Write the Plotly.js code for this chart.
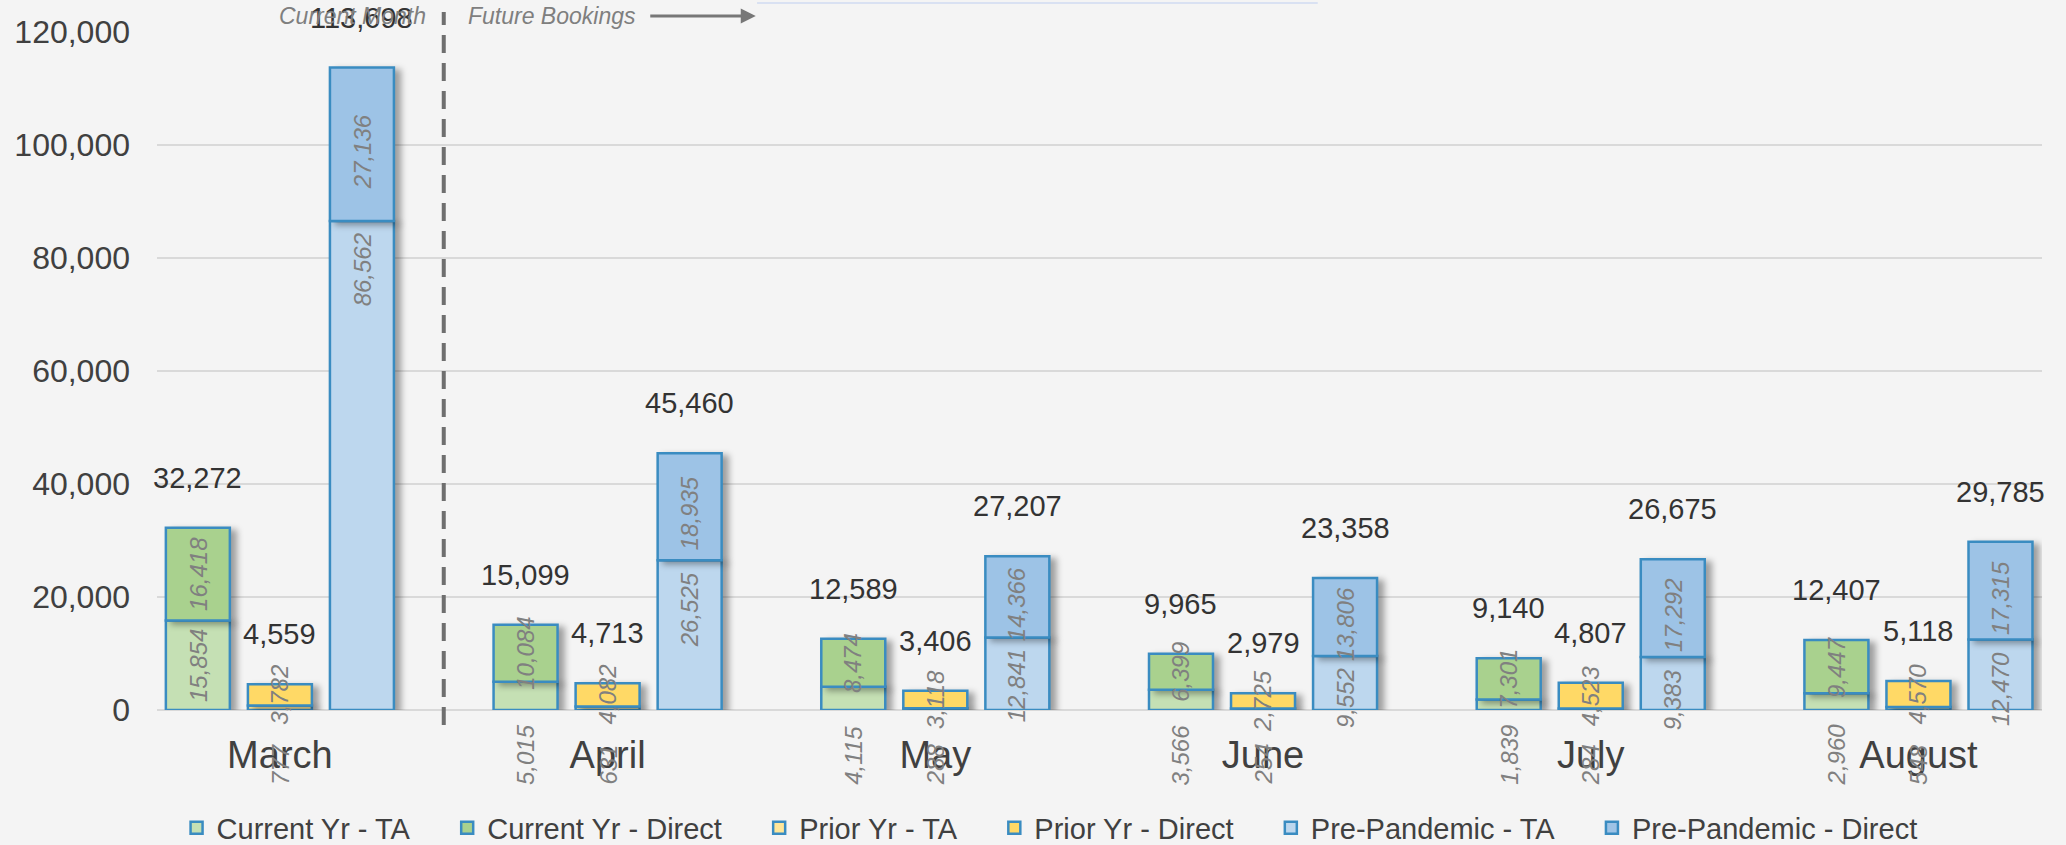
<!DOCTYPE html>
<html>
<head>
<meta charset="utf-8">
<script src="https://cdn.plot.ly/plotly-3.0.1.min.js"></script>
<style>
  html, body { margin: 0; padding: 0; background: #F4F4F4; }
  #chart { width: 2066px; height: 845px; }
  .js-plotly-plot .barlayer .trace { filter: drop-shadow(6px 3px 3px rgba(0,0,0,0.35)); }
</style>
</head>
<body>
<div id="chart"></div>
<script>
// ---- data ----
const categories = ['March', 'April', 'May', 'June', 'July', 'August'];
const currentTA     = [15854, 5015, 4115, 3566, 1839, 2960];
const currentDirect = [16418, 10084, 8474, 6399, 7301, 9447];
const priorTA       = [777, 631, 288, 254, 284, 548];
const priorDirect   = [3782, 4082, 3118, 2725, 4523, 4570];
const preTA         = [86562, 26525, 12841, 9552, 9383, 12470];
const preDirect     = [27136, 18935, 14366, 13806, 17292, 17315];
const yTickValues   = [0, 20000, 40000, 60000, 80000, 100000, 120000];
const noteLeft  = 'Current Month';
const noteRight = 'Future Bookings';

// ---- styling ----
const FONT = 'Arial, "Liberation Sans", sans-serif';
const BORDER = '#3A8CC1';
const W = 2066, H = 845;
const M = { l: 157, r: 24, t: 32, b: 135, autoexpand: false };
const PLOT_H = H - M.t - M.b;
const BARGAP = 0.249, GROUPGAP = 0.22;
const SLOT = (1 - BARGAP) / 3;
const Y_MAX = 120000;
const PX_PER_UNIT = PLOT_H / Y_MAX;
const SEG_FONT = 24;
const PAD = '\u00a0\u00a0\u00a0\u00a0';   // visual gap after each legend entry

const groups = [
  { key: 'Current Yr',   ta: currentTA, dir: currentDirect, cTA: '#C5E0B4', cDir: '#A9D18E', taMode: 'fit' },
  { key: 'Prior Yr',     ta: priorTA,   dir: priorDirect,   cTA: '#FFE699', cDir: '#FFD966', taMode: 'fit' },
  { key: 'Pre-Pandemic', ta: preTA,     dir: preDirect,     cTA: '#BDD7EE', cDir: '#9DC3E6', taMode: 'end' }
];

const fmt = v => v.toLocaleString('en-US');
const traces = [];
const annotations = [];

groups.forEach((g, gi) => {
  const og = String(gi + 1);
  traces.push({
    type: 'bar', name: g.key + ' - TA' + PAD, x: categories, y: g.ta,
    offsetgroup: og, marker: { color: g.cTA, line: { color: BORDER, width: 2.5 } },
    hoverinfo: 'skip'
  });
  traces.push({
    type: 'bar', name: g.key + ' - Direct' + PAD, x: categories, y: g.dir, base: g.ta,
    offsetgroup: og, marker: { color: g.cDir, line: { color: BORDER, width: 2.5 } },
    hoverinfo: 'skip'
  });

  categories.forEach((c, i) => {
    const xPos = i + (gi - 1) * SLOT;
    const ta = g.ta[i], dir = g.dir[i], tot = ta + dir;
    const segFont = { family: FONT, size: SEG_FONT, color: '#808080', style: 'italic' };
    const taTxt = fmt(ta);
    const labelLen = taTxt.length * 0.53 * SEG_FONT;
    let taAnn = { x: xPos, y: ta / 2, text: taTxt, textangle: -90, showarrow: false,
                  font: segFont, yanchor: 'middle', xanchor: 'center' };
    if (g.taMode === 'end') {
      taAnn.y = ta; taAnn.yanchor = 'top'; taAnn.yshift = -10;
    } else if (ta * PX_PER_UNIT < labelLen) {
      taAnn.y = 0; taAnn.yanchor = 'bottom'; taAnn.yshift = -77;
    }
    annotations.push(taAnn);
    annotations.push({ x: xPos, y: ta + dir / 2, text: fmt(dir), textangle: -90, showarrow: false,
                       font: segFont, yanchor: 'middle', xanchor: 'center',
                       yshift: g.taMode === 'end' ? -7 : 0 });
    annotations.push({ x: xPos, y: tot, text: fmt(tot), showarrow: false, yanchor: 'middle',
                       yshift: 50, font: { family: FONT, size: 29, color: '#333333' } });
  });
});

const noteY = 1 + (M.t - 16) / PLOT_H;
annotations.push({ xref: 'x', yref: 'paper', x: 0.5, y: noteY, xanchor: 'right', yanchor: 'middle',
  xshift: -16, text: noteLeft, showarrow: false,
  font: { family: FONT, size: 23, color: '#7F7F7F', style: 'italic' } });
annotations.push({ xref: 'x', yref: 'paper', x: 0.5, y: noteY, xanchor: 'left', yanchor: 'middle',
  xshift: 22, text: noteRight, showarrow: false,
  font: { family: FONT, size: 23, color: '#7F7F7F', style: 'italic' } });
annotations.push({ xref: 'x', yref: 'paper', x: 0.5, y: noteY, xshift: 312, text: '',
  showarrow: true, ax: -107, ay: 0, axref: 'pixel', ayref: 'pixel',
  arrowhead: 2, arrowsize: 1, arrowwidth: 3, arrowcolor: '#777777' });

const layout = {
  width: W, height: H,
  margin: M,
  paper_bgcolor: '#F4F4F4', plot_bgcolor: '#F4F4F4',
  barmode: 'group', bargap: BARGAP, bargroupgap: GROUPGAP,
  font: { family: FONT, color: '#404040' },
  showlegend: true,
  legend: { orientation: 'h', x: 0.482, xanchor: 'center', y: -(828 - (H - M.b)) / PLOT_H, yanchor: 'middle',
            font: { family: FONT, size: 29, color: '#404040' }, traceorder: 'normal',
            bgcolor: 'rgba(0,0,0,0)' },
  xaxis: { type: 'category', range: [-0.375, 5.377], showgrid: false, zeroline: false,
           showline: false, ticks: '', ticklabelstandoff: 19,
           tickfont: { family: FONT, size: 38, color: '#404040' } },
  yaxis: { range: [0, Y_MAX], tickvals: yTickValues, tickformat: ',d', showgrid: true,
           gridcolor: '#D9D9D9', gridwidth: 2, zeroline: true, zerolinecolor: '#D9D9D9',
           zerolinewidth: 2, showline: false, ticks: '', ticklabelstandoff: 26,
           tickfont: { family: FONT, size: 32, color: '#404040' } },
  shapes: [
    { type: 'line', xref: 'x', yref: 'paper', x0: 0.5, x1: 0.5,
      y0: -(725 - (H - M.b)) / PLOT_H, y1: 1 + (M.t - 12) / PLOT_H,
      line: { color: '#6E6E6E', width: 4, dash: '18px,10px' } },
    { type: 'line', xref: 'x', yref: 'paper', x0: 1.456, x1: 3.167,
      y0: 1 + (M.t - 3) / PLOT_H, y1: 1 + (M.t - 3) / PLOT_H,
      line: { color: '#D9E1F2', width: 2 } }
  ],
  annotations: annotations
};

Plotly.newPlot('chart', traces, layout, { displayModeBar: false, staticPlot: true });
</script>
</body>
</html>
